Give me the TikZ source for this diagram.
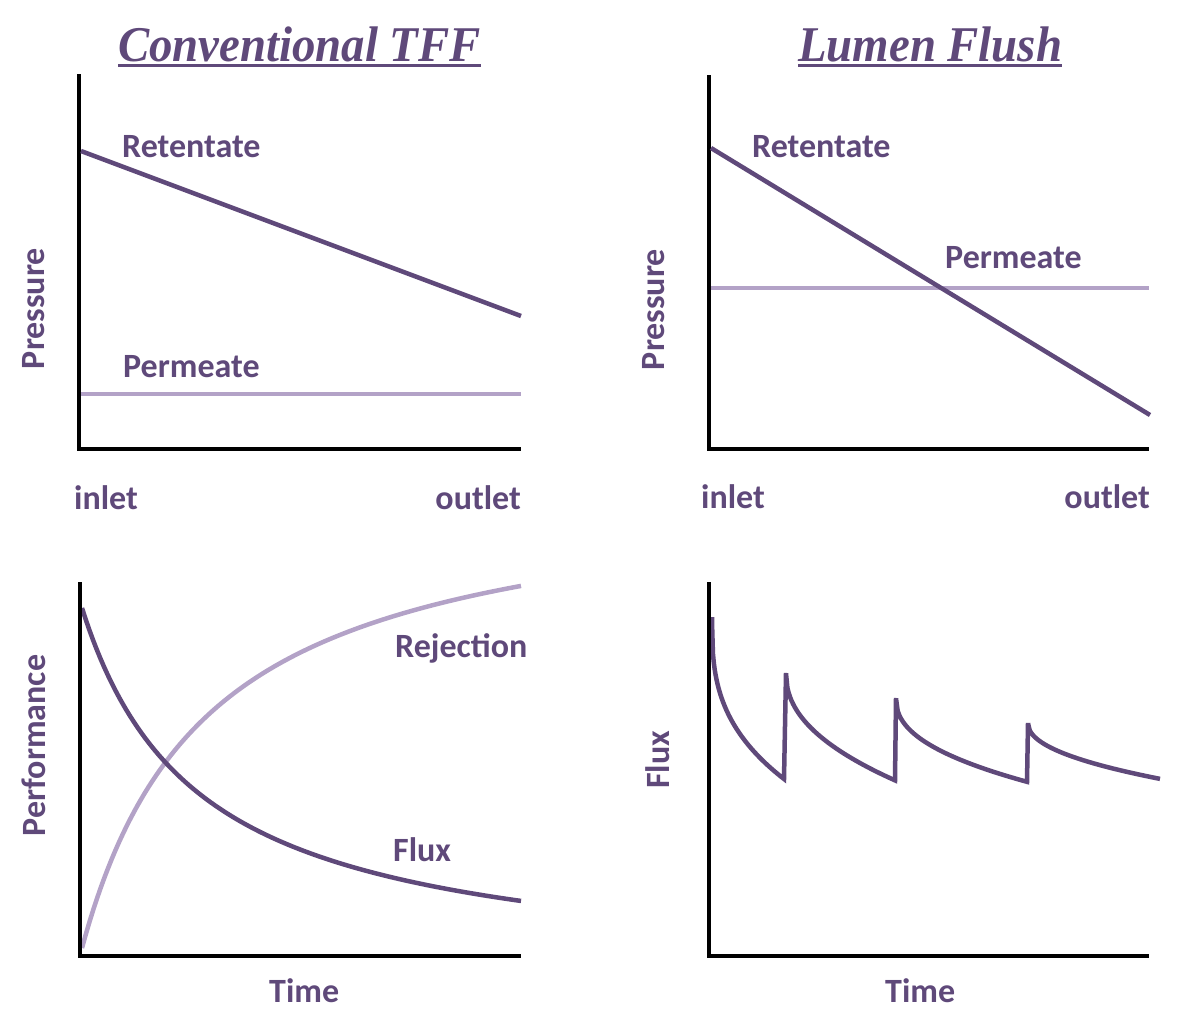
\documentclass[tikz,border=0pt]{standalone}
\usepackage{fontspec}
\setmainfont{Carlito}
\newfontfamily\titlefont{Liberation Serif}
\usepackage{graphicx}
\definecolor{dkp}{HTML}{5F497A}
\definecolor{ltp}{HTML}{B3A2C7}
\begin{document}
\begin{tikzpicture}[x=1pt,y=-1pt,
  axisline/.style={line width=4.8pt,black,line join=miter},
  darkline/.style={line width=4.5pt,dkp},
  lightline/.style={line width=4.5pt,ltp},
  lbl/.style={inner sep=0pt,text=dkp,font=\fontsize{34}{40}\selectfont\bfseries},
  ttl/.style={inner sep=0pt,text=dkp,font=\fontsize{50}{56}\selectfont\titlefont\bfseries\itshape},
  ulin/.style={line width=3pt,dkp}]
\useasboundingbox (0,0) rectangle (1182,1034);

% titles
\node[ttl,anchor=base west] (t1) at (118,61) {\scalebox{0.936}[1]{Conventional TFF}};
\node[ttl,anchor=base west] (t2) at (798,61) {\scalebox{0.936}[1]{Lumen Flush}};
\draw[ulin] ([yshift=-4pt]t1.base west) -- ([yshift=-4pt]t1.base east);
\draw[ulin] ([yshift=-4pt]t2.base west) -- ([yshift=-4pt]t2.base east);

% ---------- top left ----------
\coordinate (a1t) at (79,74);
\coordinate (a1o) at (79,449);
\coordinate (a1r) at (521,449);
\draw[axisline] (a1t) -- (a1o) -- (a1r);
\coordinate (r1s) at (81,151);
\coordinate (r1e) at (521,316);
\draw[darkline] (r1s) -- (r1e);
\coordinate (p1s) at (81,394);
\coordinate (p1e) at (521,394);
\draw[lightline] (p1s) -- (p1e);
\node[lbl,anchor=base west] (ret1) at (122,157) {Retentate};
\node[lbl,anchor=base west] (per1) at (123,377) {Permeate};
\node[lbl,anchor=base,rotate=90] (pr1) at (44,308.5) {Pressure};
\node[lbl,anchor=base west] (in1) at (74,509) {inlet};
\node[lbl,anchor=base east] (out1) at (521,509) {outlet};

% ---------- top right ----------
\coordinate (a2t) at (709,75);
\coordinate (a2o) at (709,449);
\coordinate (a2r) at (1149,449);
\draw[axisline] (a2t) -- (a2o) -- (a2r);
\coordinate (p2s) at (711,288);
\coordinate (p2e) at (1149,288);
\draw[lightline] (p2s) -- (p2e);
\coordinate (r2s) at (711,148);
\coordinate (r2e) at (1150,415);
\draw[darkline] (r2s) -- (r2e);
\node[lbl,anchor=base west] (ret2) at (752,157) {Retentate};
\node[lbl,anchor=base west] (per2) at (945,268) {Permeate};
\node[lbl,anchor=base,rotate=90] (pr2) at (664,309.5) {Pressure};
\node[lbl,anchor=base west] (in2) at (701,508) {inlet};
\node[lbl,anchor=base east] (out2) at (1150,508) {outlet};

% ---------- bottom left ----------
\coordinate (a3t) at (80,582);
\coordinate (a3o) at (80,956);
\coordinate (a3r) at (521,956);
\draw[lightline] plot[domain=0:439,samples=120] ({82+\x},{948-\x/(\x+126)*466});
\draw[darkline] plot[domain=0:439,samples=120] ({82+\x},{608+\x/(\x+117)*371});
\draw[axisline] (a3t) -- (a3o) -- (a3r);
\node[lbl,anchor=base west] (rej) at (395,657) {Rejection};
\node[lbl,anchor=base west] (flx) at (393,861) {Flux};
\node[lbl,anchor=base,rotate=90] (perf) at (45,745.5) {Performance};
\node[lbl,anchor=base west] (tm1) at (269,1002) {Time};

% ---------- bottom right ----------
\coordinate (a4t) at (709,582);
\coordinate (a4o) at (709,956);
\coordinate (a4r) at (1149,956);
\draw[darkline,line join=miter]
  (712,617) -- plot[domain=0.001:72,samples=80] ({712+\x},{618+36.5*(\x)^0.347})
  -- (786,673) -- plot[domain=0.001:109,samples=80] ({786+\x},{673+12.7*(\x)^0.455})
  -- (896,698) -- plot[domain=0.001:131,samples=80] ({896+\x},{698+10.3*(\x)^0.43})
  -- (1028,723) -- plot[domain=0.001:132,samples=80] ({1028+\x},{723+5.74*(\x)^0.466});
\draw[axisline] (a4t) -- (a4o) -- (a4r);
\node[lbl,anchor=base,rotate=90] (fl2) at (669,760) {Flux};
\node[lbl,anchor=base west] (tm2) at (885,1002) {Time};
\end{tikzpicture}
\end{document}
